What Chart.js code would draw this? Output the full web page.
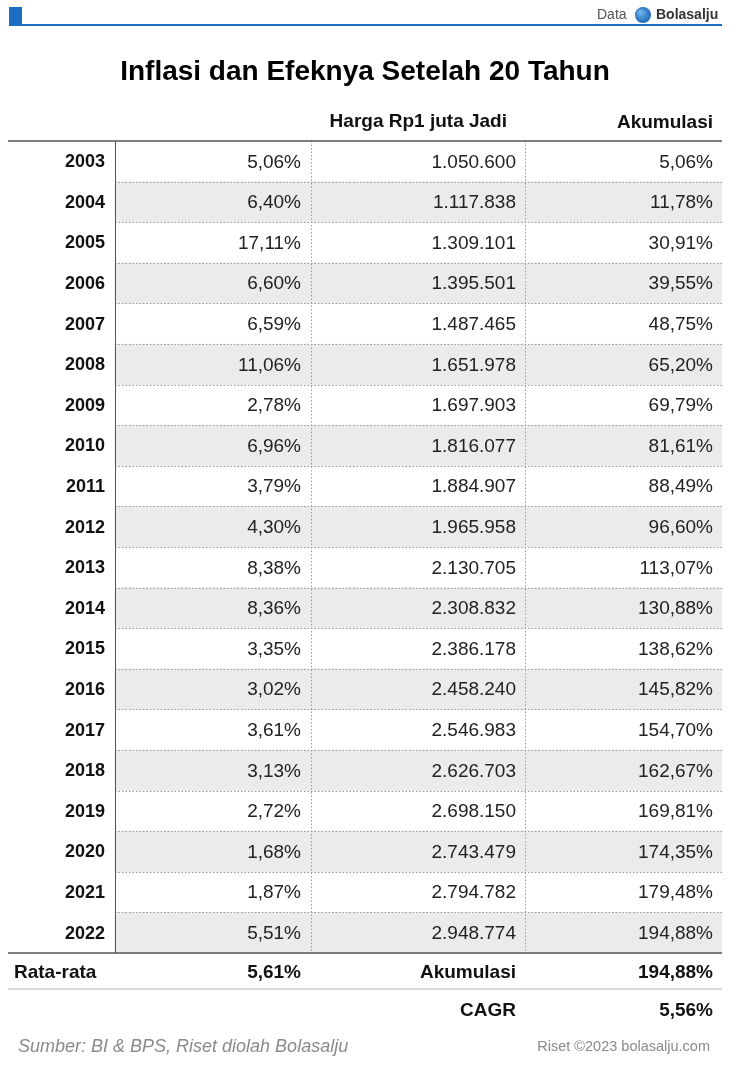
<!DOCTYPE html>
<html>
<head>
<meta charset="utf-8">
<script src="https://cdn.jsdelivr.net/npm/chart.js@4/dist/chart.umd.min.js"></script>
<style>
html,body{margin:0;padding:0;background:#fff;}
#wrap{width:742px;height:1074px;position:relative;}
</style>
</head>
<body>
<div id="wrap"><canvas id="myChart"></canvas></div>
<script>
// table data
let years = ['2003','2004','2005','2006','2007','2008','2009','2010','2011','2012',
    '2013','2014','2015','2016','2017','2018','2019','2020','2021','2022'];
let inflasi = ['5,06%','6,40%','17,11%','6,60%','6,59%','11,06%','2,78%','6,96%','3,79%','4,30%',
    '8,38%','8,36%','3,35%','3,02%','3,61%','3,13%','2,72%','1,68%','1,87%','5,51%'];
let harga = ['1.050.600','1.117.838','1.309.101','1.395.501','1.487.465','1.651.978','1.697.903','1.816.077','1.884.907','1.965.958',
    '2.130.705','2.308.832','2.386.178','2.458.240','2.546.983','2.626.703','2.698.150','2.743.479','2.794.782','2.948.774'];
let akumulasi = ['5,06%','11,78%','30,91%','39,55%','48,75%','65,20%','69,79%','81,61%','88,49%','96,60%',
    '113,07%','130,88%','138,62%','145,82%','154,70%','162,67%','169,81%','174,35%','179,48%','194,88%'];
let headers = ['', '', 'Harga Rp1 juta Jadi', 'Akumulasi'];

// column edges (x scale units, left edge of table = 0)
let colEdges = [0, 107, 303, 517, 714];
const FONT = '"Liberation Sans", Arial, sans-serif';

// grey stripes on every second row, spanning the value columns
let stripes = years.map(function(y, i){
    return i % 2 === 1 ? [colEdges[1], colEdges[4]] : null;
});

let tablePlugin = {
    id: 'tableText',
    afterDatasetsDraw: function(chart){
        let ctx = chart.ctx;
        let xs = chart.scales.x, ys = chart.scales.y;
        let X = function(v){ return xs.getPixelForValue(v); };
        let top = chart.chartArea.top, bottom = chart.chartArea.bottom;
        let rowH = (bottom - top) / years.length;
        ctx.save();

        // dotted row separators
        ctx.strokeStyle = '#9a9a9a';
        ctx.lineWidth = 1;
        ctx.setLineDash([1.5, 2]);
        for(let i = 1; i < years.length; i++){
            let yy = Math.round(top + i * rowH) + 0.5;
            ctx.beginPath(); ctx.moveTo(X(colEdges[1]), yy); ctx.lineTo(X(colEdges[4]), yy); ctx.stroke();
        }
        [2, 3].forEach(function(c){
            let xx = Math.round(X(colEdges[c])) + 0.5;
            ctx.beginPath(); ctx.moveTo(xx, top); ctx.lineTo(xx, bottom); ctx.stroke();
        });
        ctx.setLineDash([]);

        // solid lines
        ctx.strokeStyle = '#555';
        ctx.lineWidth = 1.5;
        ctx.beginPath(); ctx.moveTo(X(colEdges[0]), top); ctx.lineTo(X(colEdges[4]), top); ctx.stroke();
        ctx.beginPath(); ctx.moveTo(X(colEdges[0]), bottom); ctx.lineTo(X(colEdges[4]), bottom); ctx.stroke();
        ctx.lineWidth = 1;
        ctx.beginPath(); ctx.moveTo(X(colEdges[1]) + 0.5, top); ctx.lineTo(X(colEdges[1]) + 0.5, bottom); ctx.stroke();

        // cells
        ctx.textBaseline = 'middle';
        ctx.textAlign = 'right';
        years.forEach(function(y, i){
            let yy = ys.getPixelForValue(i) + 1;
            ctx.fillStyle = '#111';
            ctx.font = 'bold 18px ' + FONT;
            ctx.fillText(y, X(colEdges[1]) - 10, yy);
            ctx.fillStyle = '#222';
            ctx.font = '19px ' + FONT;
            ctx.fillText(inflasi[i], X(colEdges[2]) - 10, yy);
            ctx.fillText(harga[i], X(colEdges[3]) - 9, yy);
            ctx.fillText(akumulasi[i], X(colEdges[4]) - 9, yy);
        });

        // header row
        ctx.fillStyle = '#111';
        ctx.font = 'bold 19px ' + FONT;
        ctx.fillText(headers[2], X(colEdges[3]) - 18, top - 19);
        ctx.fillText(headers[3], X(colEdges[4]) - 9, top - 18);

        // summary rows
        let r1 = bottom + 20, r2 = bottom + 58;
        ctx.textAlign = 'left';
        ctx.fillText('Rata-rata', X(colEdges[0]) + 6, r1);
        ctx.textAlign = 'right';
        ctx.fillText('5,61%', X(colEdges[2]) - 10, r1);
        ctx.fillText('Akumulasi', X(colEdges[3]) - 9, r1);
        ctx.fillText('194,88%', X(colEdges[4]) - 9, r1);
        ctx.fillText('CAGR', X(colEdges[3]) - 9, r2);
        ctx.fillText('5,56%', X(colEdges[4]) - 9, r2);
        ctx.strokeStyle = '#ccc';
        ctx.lineWidth = 1.5;
        ctx.beginPath(); ctx.moveTo(X(colEdges[0]), bottom + 36); ctx.lineTo(X(colEdges[4]), bottom + 36); ctx.stroke();

        // footer
        ctx.textAlign = 'left';
        ctx.fillStyle = '#8a8a8a';
        ctx.font = 'italic 18px ' + FONT;
        ctx.fillText('Sumber: BI & BPS, Riset diolah Bolasalju', 18, 1047);
        ctx.textAlign = 'right';
        ctx.font = '14.5px ' + FONT;
        ctx.fillText('Riset \u00a92023 bolasalju.com', 710, 1047);

        // title
        ctx.textAlign = 'center';
        ctx.fillStyle = '#000';
        ctx.font = 'bold 28px ' + FONT;
        ctx.fillText('Inflasi dan Efeknya Setelah 20 Tahun', 365, 72);

        // top brand bar
        ctx.fillStyle = '#1a6fc4';
        ctx.fillRect(9, 7, 13, 18);
        ctx.fillRect(9, 24, 713, 2);
        ctx.font = '14px ' + FONT;
        ctx.textAlign = 'left';
        ctx.fillStyle = '#555';
        ctx.fillText('Data', 597, 15);
        let g = ctx.createRadialGradient(640, 12, 1, 643, 15, 9);
        g.addColorStop(0, '#6fb3ee'); g.addColorStop(1, '#1560b0');
        ctx.fillStyle = g;
        ctx.beginPath(); ctx.arc(643, 15, 8, 0, Math.PI * 2); ctx.fill();
        ctx.fillStyle = '#333';
        ctx.font = 'bold 14px ' + FONT;
        ctx.fillText('Bolasalju', 656, 15);
        ctx.restore();
    }
};

var ctx = document.getElementById('myChart').getContext('2d');
let config = {
    type: 'bar',
    data: {
        labels: years,
        datasets: [{
            label: 'stripes',
            data: stripes,
            backgroundColor: '#ebebeb',
            borderWidth: 0,
            barPercentage: 1,
            categoryPercentage: 1
        }]
    },
    options: {
        indexAxis: 'y',
        responsive: false,
        animation: false,
        layout: {padding: {top: 141, bottom: 121, left: 8, right: 20}},
        plugins: {legend: {display: false}, tooltip: {enabled: false}},
        scales: {
            x: {type: 'linear', min: 0, max: 714, display: false},
            y: {display: false, grid: {display: false}}
        }
    },
    plugins: [tablePlugin]
};
document.getElementById('myChart').width = 742;
document.getElementById('myChart').height = 1074;
let myChart = new Chart(ctx, config);
</script>
</body>
</html>
